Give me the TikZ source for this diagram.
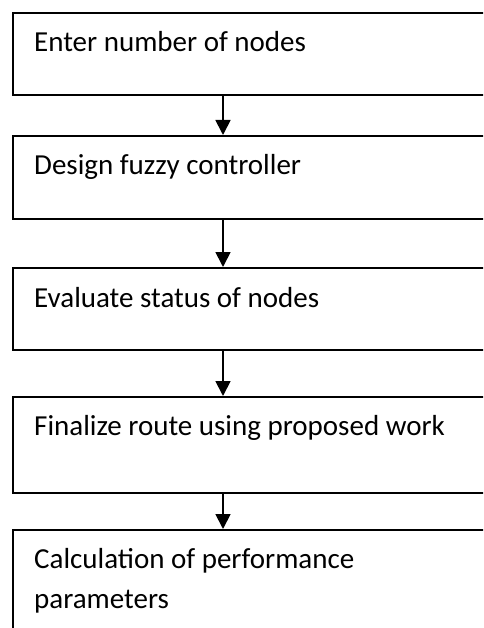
\documentclass[tikz,border=0pt]{standalone}
\usepackage{fontspec}
\setmainfont{Carlito}
\usetikzlibrary{arrows.meta}
\begin{document}
\begin{tikzpicture}[x=1pt,y=-1pt,
  stepbox/.style={draw=black, line width=1.6pt, rectangle, anchor=north west,
    inner sep=0pt, minimum width=480pt},
  steptext/.style={anchor=base west, inner sep=0pt, font=\fontsize{29}{40}\selectfont},
  flow/.style={line width=1.8pt, -{Triangle[length=15pt, width=15pt]}}]
  \useasboundingbox (0,0) rectangle (483,628);
  \clip (0,0) rectangle (483,628);

  % process boxes (they run past the right and bottom edges)
  \node[stepbox, minimum height=82pt] (b1) at (12,12) {};
  \node[stepbox, minimum height=83pt] (b2) at (12,135) {};
  \node[stepbox, minimum height=82pt] (b3) at (12,267) {};
  \node[stepbox, minimum height=96pt] (b4) at (12,396) {};
  \node[stepbox, minimum height=130pt] (b5) at (12,529) {};

  % box captions
  \node[steptext] (t1) at (34,52) {Enter number of nodes};
  \node[steptext] (t2) at (34,175) {Design fuzzy controller};
  \node[steptext] (t3) at (34,307) {Evaluate status of nodes};
  \node[steptext] (t4) at (34,435) {Finalize route using proposed work};
  \node[steptext] (t5) at (34,568) {Calculation of performance};
  \node[steptext] (t5b) at (34,608) {parameters};

  % connectors
  \coordinate (ax) at (223,0);
  \draw[flow] (b1.south -| ax) -- (b2.north -| ax);
  \draw[flow] (b2.south -| ax) -- (b3.north -| ax);
  \draw[flow] (b3.south -| ax) -- (b4.north -| ax);
  \draw[flow] (b4.south -| ax) -- (b5.north -| ax);
\end{tikzpicture}
\end{document}
